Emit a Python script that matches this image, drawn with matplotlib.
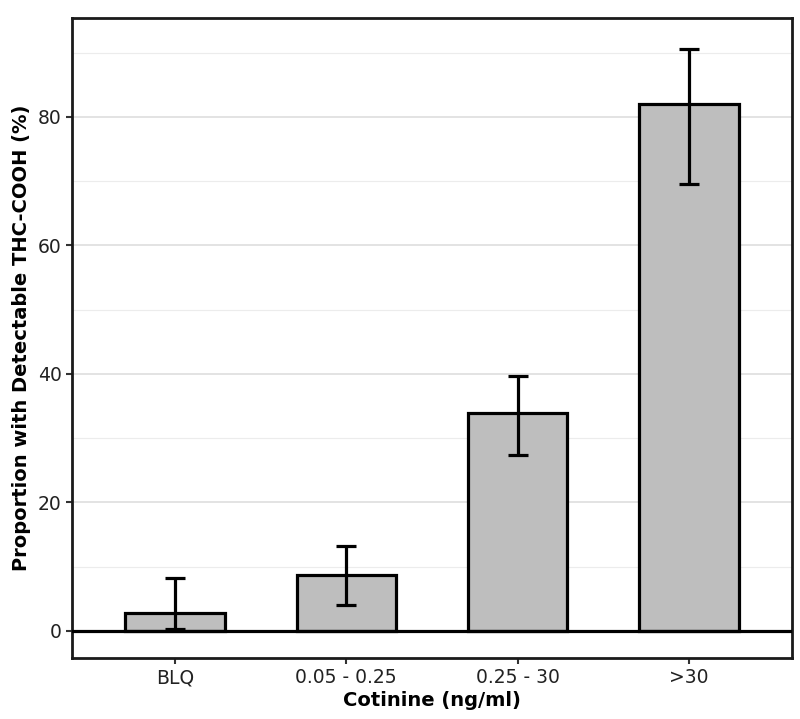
import numpy as np
import matplotlib
matplotlib.use('Agg')
import matplotlib.pyplot as plt

categories = ['BLQ', '0.05 - 0.25', '0.25 - 30', '>30']
proportion = [2.8, 8.7, 33.9, 82.0]
ci_low = [0.3, 4.0, 27.4, 69.6]
ci_high = [8.2, 13.2, 39.7, 90.6]

plt.rcParams['font.family'] = 'DejaVu Sans'

fig = plt.figure(figsize=(8, 7.19), dpi=100)
ax = fig.add_axes([0.09, 0.085, 0.9, 0.89])

x = np.arange(1, len(categories) + 1)
prop = np.array(proportion)
yerr = [prop - np.array(ci_low), np.array(ci_high) - prop]

ax.bar(x, prop, width=0.58, color='#bebebe', edgecolor='black', linewidth=2.3, zorder=3)
ax.errorbar(x, prop, yerr=yerr, fmt='none', ecolor='black', elinewidth=2.3,
            capsize=7.5, capthick=2.3, zorder=4)
ax.axhline(0, color='black', linewidth=2.3, zorder=5)

ax.set_xlim(0.4, 4.6)
ax.set_ylim(-4.2, 95.4)
ax.set_yticks([0, 20, 40, 60, 80])
ax.set_yticks([10, 30, 50, 70, 90], minor=True)
ax.set_xticks(x)
ax.set_xticklabels(categories)

ax.grid(axis='y', which='major', color='#e0e0e0', linewidth=1.3, zorder=0)
ax.grid(axis='y', which='minor', color='#ececec', linewidth=0.8, zorder=0)
ax.set_axisbelow(True)

for s in ax.spines.values():
    s.set_linewidth(2)
    s.set_color('#1a1a1a')

ax.tick_params(axis='both', which='major', labelsize=13.5, length=4, width=1.5,
               color='#333333', labelcolor='#222222')
ax.tick_params(axis='y', which='minor', length=0)

ax.set_xlabel('Cotinine (ng/ml)', fontsize=14, fontweight='bold', labelpad=2.5)
ax.set_ylabel('Proportion with Detectable THC-COOH (%)', fontsize=14, fontweight='bold', labelpad=5)

fig.savefig('out.png', dpi=100)
